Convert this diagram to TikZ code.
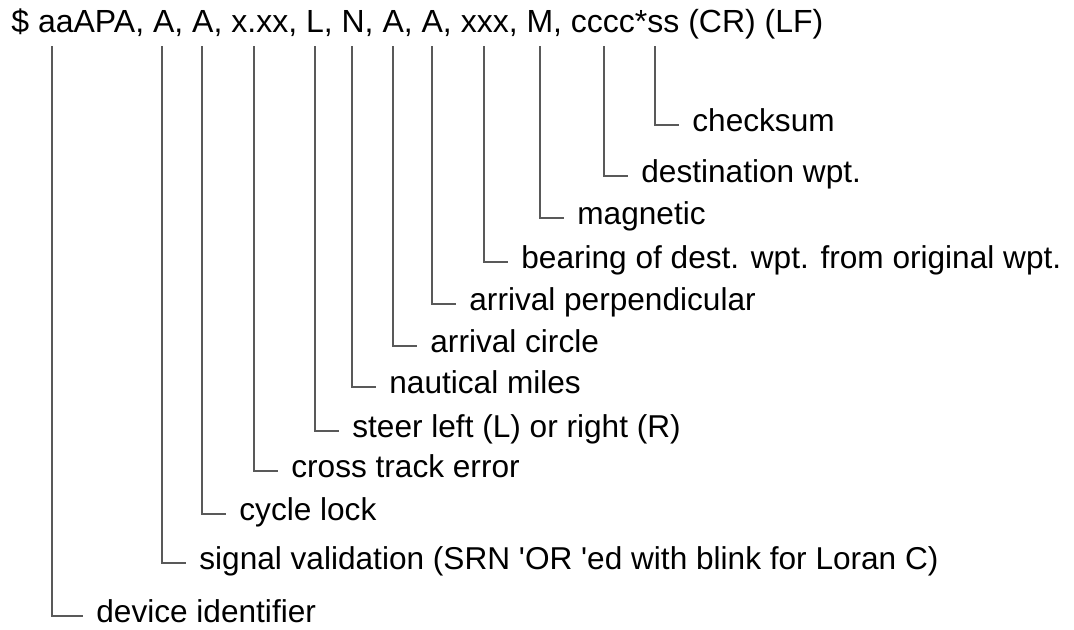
\documentclass[tikz,border=0pt]{standalone}
\usepackage{fontspec}
\setmainfont{Liberation Sans}
\usepackage{tikz}

\begin{document}
\begin{tikzpicture}[x=0.5pt, y=-0.5pt, font=\fontsize{15.8}{19}\selectfont,
    lbl/.style={anchor=west, inner sep=0pt, text height=1.2ex, text depth=0pt},
    tick/.style={black!65, line width=0.55pt}]
  \useasboundingbox (0,0) rectangle (1074,629);
  \node[anchor=base west, inner sep=0pt, font=\fontsize{16}{19}\selectfont] (hdr) at (11,32)
    {\$ aaAPA, A, A, x.xx, L, N, A, A, xxx, M, cccc*ss (CR) (LF)};
  % tops of the leader lines, under each field
  \coordinate (fid) at (52,46);
  \coordinate (fsig) at (162,46);
  \coordinate (fcyc) at (202,46);
  \coordinate (fxte) at (254,46);
  \coordinate (fdir) at (315,46);
  \coordinate (funit) at (352,46);
  \coordinate (fcirc) at (393,46);
  \coordinate (fperp) at (432,46);
  \coordinate (fbrg) at (484,46);
  \coordinate (fmag) at (540,46);
  \coordinate (fdest) at (604,46);
  \coordinate (fsum) at (655,46);
  % field descriptions
  \node[lbl] (sum) at (692,125) {checksum};
  \node[lbl] (dest) at (641,176) {destination wpt.};
  \node[lbl] (mag) at (577,218) {magnetic};
  \node[lbl] (brg) at (521,262) {bearing of dest. wpt. from original wpt.};
  \node[lbl] (perp) at (469,304) {arrival perpendicular};
  \node[lbl] (circ) at (430,346) {arrival circle};
  \node[lbl] (unit) at (389,387) {nautical miles};
  \node[lbl] (dir) at (352,431) {steer left (L) or right (R)};
  \node[lbl] (xte) at (291,471) {cross track error};
  \node[lbl] (cyc) at (239,514) {cycle lock};
  \node[lbl] (sig) at (199,563)
    {signal validation (SRN \textquotesingle OR \textquotesingle ed with blink for Loran C)};
  \node[lbl] (id) at (96,616) {device identifier};
  % leaders
  \draw[tick] (fsum) |- ([xshift=-6.5pt]sum.west);
  \draw[tick] (fdest) |- ([xshift=-6.5pt]dest.west);
  \draw[tick] (fmag) |- ([xshift=-6.5pt]mag.west);
  \draw[tick] (fbrg) |- ([xshift=-6.5pt]brg.west);
  \draw[tick] (fperp) |- ([xshift=-6.5pt]perp.west);
  \draw[tick] (fcirc) |- ([xshift=-6.5pt]circ.west);
  \draw[tick] (funit) |- ([xshift=-6.5pt]unit.west);
  \draw[tick] (fdir) |- ([xshift=-6.5pt]dir.west);
  \draw[tick] (fxte) |- ([xshift=-6.5pt]xte.west);
  \draw[tick] (fcyc) |- ([xshift=-6.5pt]cyc.west);
  \draw[tick] (fsig) |- ([xshift=-6.5pt]sig.west);
  \draw[tick] (fid) |- ([xshift=-6.5pt]id.west);
\end{tikzpicture}
\end{document}
